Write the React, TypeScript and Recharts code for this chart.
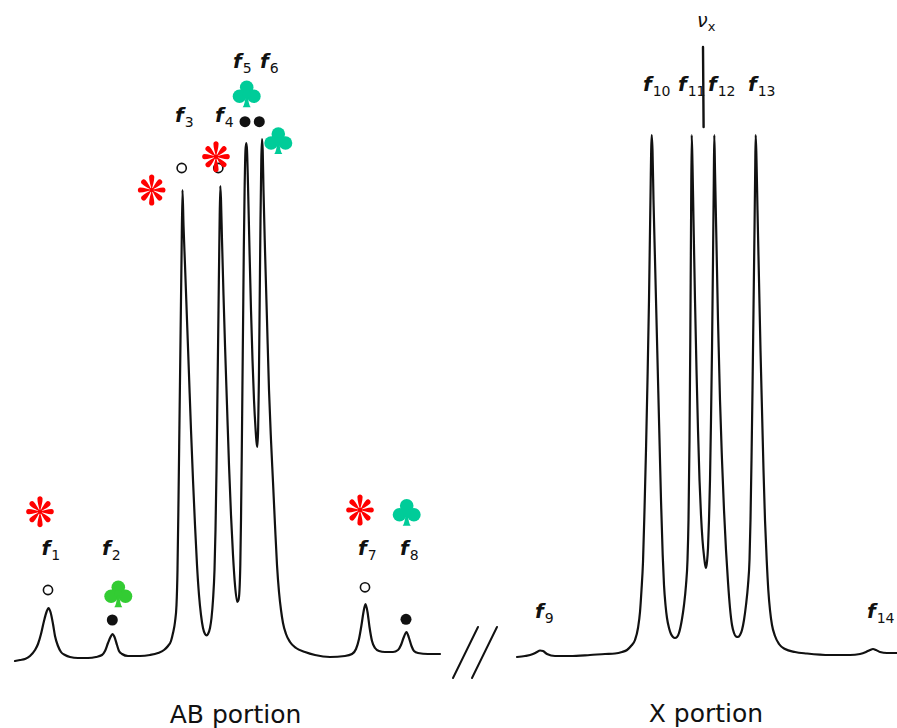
import React from "react";
import { ComposedChart, Line, Scatter, XAxis, YAxis } from "recharts";

// AB portion of the spectrum: [frequency position, intensity]
const abSpectrum: [number, number][] = [
  [15, -1], [20, 0], [25, 1], [30, 4], [35, 10], [38, 16], [41, 26], [44, 39], [46.5, 48], [48.5, 52],
  [50.5, 48], [53, 36], [55, 24], [58, 14], [61, 8], [65, 5], [70, 3], [78, 2], [88, 2], [96, 3],
  [102, 5], [105, 9], [108, 17], [110.5, 23], [112.5, 26], [114.5, 23], [117, 15], [119, 9], [122, 6], [128, 4],
  [140, 4], [150, 5], [158, 7], [164, 10], [168, 14], [171, 19], [173, 27], [175, 38], [176.5, 55], [177.5, 90],
  [178.5, 160], [179.5, 240], [180.5, 320], [181.5, 400], [182.5, 470], [183.5, 435], [185, 395], [187, 340], [189, 285], [191, 230],
  [193, 180], [195, 135], [197, 95], [199, 65], [201, 45], [203, 32], [205, 26], [206.7, 24.5], [208, 26], [210, 32],
  [211.5, 42], [213, 60], [214.5, 90], [215.5, 130], [216.5, 190], [217.5, 270], [218.5, 350], [219.5, 430], [220.3, 474], [221, 460],
  [222, 420], [223.5, 365], [225, 315], [227, 255], [229, 195], [231, 145], [233, 105], [235, 75], [237.3, 58], [238.5, 60],
  [239.5, 70], [240.3, 95], [241, 140], [241.7, 200], [242.4, 270], [243.1, 340], [243.8, 410], [244.6, 470], [245.5, 510], [246.3, 517],
  [247, 510], [248, 475], [249.5, 410], [251, 350], [252.5, 300], [254, 260], [255.5, 232], [256.5, 218], [257.3, 213], [258.1, 230],
  [258.9, 280], [259.7, 360], [260.5, 440], [261.3, 500], [262, 521], [262.7, 510], [263.5, 470], [265, 410], [267, 340], [269, 270],
  [271, 220], [273, 178], [275, 135], [277, 95], [279, 68], [281, 50], [283, 37], [286, 26], [290, 18], [296, 12],
  [305, 8], [315, 5], [330, 3], [345, 4], [352, 6], [356, 11], [359, 21], [361.5, 35], [363.5, 48], [365.5, 56],
  [367.5, 48], [369.5, 33], [372, 19], [375, 12], [379, 9], [385, 8], [393, 8], [398, 10], [401, 15], [403.5, 22],
  [406.5, 28], [409, 22], [411.5, 14], [414, 9], [418, 7], [428, 6], [440, 6],
];

// X portion of the spectrum
const xSpectrum: [number, number][] = [
  [517, 3], [525, 4], [533, 6], [537, 8], [540, 9.5], [543, 9], [547, 6], [555, 4], [570, 4], [590, 5],
  [605, 6], [615, 6.5], [622, 8], [627, 10], [631, 14], [635, 20], [638, 32], [640, 48], [641.5, 70], [643, 98],
  [644.5, 150], [646, 210], [647.5, 280], [649, 360], [650.3, 450], [651.7, 525], [652.5, 510], [653.5, 460], [655, 400], [656.5, 340],
  [658, 280], [659.5, 220], [661, 160], [662.7, 105], [664, 75], [665.5, 55], [667, 42], [669, 32], [671, 26], [673, 23],
  [675, 22], [677, 23], [679, 27], [680.5, 33], [682, 41], [684, 55], [686, 75], [687.5, 100], [688.5, 140], [689.5, 220],
  [690.3, 320], [691, 430], [691.7, 525], [692.5, 495], [693.5, 440], [695, 360], [696.5, 290], [698, 230], [699.5, 180], [701, 145],
  [702.5, 120], [704, 104], [705, 96], [706, 92], [707, 98], [708, 112], [709, 140], [710, 180], [711, 240], [712, 310],
  [713, 400], [713.8, 480], [714.3, 525], [715, 490], [716, 440], [717, 390], [718, 340], [719, 300], [720, 260], [722, 200],
  [724, 150], [726, 110], [728, 78], [730, 52], [732, 35], [734, 27], [736, 23.5], [738, 23], [740, 25], [742, 30],
  [744, 40], [746, 55], [748, 75], [749.5, 100], [750.5, 140], [751.5, 200], [752.5, 270], [753.5, 350], [754.5, 430], [755.2, 490],
  [755.7, 525], [756.5, 500], [757.5, 450], [759, 380], [760.5, 310], [762, 250], [763.5, 190], [765, 140], [766.7, 100], [768.3, 70],
  [770, 50], [772, 35], [775, 24], [779, 16], [785, 11], [795, 8], [807, 6.5], [830, 5], [850, 5], [860, 6],
  [866, 8], [870, 10], [873, 11], [876, 10], [880, 8], [887, 7], [897, 7],
];

// νx marker and axis-break marks
const nuXMarker: [number, number][] = [[703, 613], [703.6, 533]];
const breakMarkA: [number, number][] = [[453, -18], [478, 33]];
const breakMarkB: [number, number][] = [[472, -18], [497, 33]];

// Line labels f1..f14
const lineLabels = [
  { x: 41.5, y: 105, sub: "1" }, { x: 102, y: 105, sub: "2" },
  { x: 175, y: 538, sub: "3" }, { x: 215, y: 538, sub: "4" },
  { x: 233, y: 592, sub: "5" }, { x: 260, y: 592, sub: "6" },
  { x: 358, y: 105, sub: "7" }, { x: 400, y: 105, sub: "8" },
  { x: 535, y: 42, sub: "9" }, { x: 643, y: 569, sub: "10" },
  { x: 678, y: 569, sub: "11" }, { x: 708, y: 569, sub: "12" },
  { x: 748, y: 569, sub: "13" }, { x: 867, y: 42, sub: "14" },
];

// Assignment markers
const openCircles = [{ x: 48, y: 70 }, { x: 181.7, y: 492 }, { x: 218.3, y: 492 }, { x: 365, y: 72.7 }];
const filledDots = [{ x: 112.3, y: 40 }, { x: 245, y: 538.3 }, { x: 259.3, y: 538.3 }, { x: 406, y: 40.7 }];
const asterisks = [{ x: 40, y: 148.3 }, { x: 151.7, y: 470 }, { x: 216, y: 503.3 }, { x: 360, y: 150 }];
const clubs = [
  { x: 118.3, y: 66.7, kind: "green" },
  { x: 246.7, y: 566.7, kind: "teal" },
  { x: 278.3, y: 520, kind: "teal" },
  { x: 406.7, y: 148.3, kind: "teal" },
];
const nuXLabel = [{ x: 697, y: 633 }];
const portionLabels = [{ x: 235.5, y: -63, text: "AB portion" }, { x: 706, y: -61.5, text: "X portion" }];

const toPts = (arr: [number, number][]) => arr.map(([x, y]) => ({ x, y }));

const FONT = "'DejaVu Sans', sans-serif";
const CLUB_COLORS: Record<string, string> = { green: "#33cc33", teal: "#00cc99" };

const FLabel = (p: any) => (
  <text x={p.cx} y={p.cy} fontFamily={FONT} fill="#111">
    <tspan fontSize={20} fontStyle="italic" fontWeight="bold">f</tspan>
    <tspan fontSize={14} dy={5} dx={1}>{p.payload.sub}</tspan>
  </text>
);

const OpenCircle = (p: any) => (
  <circle cx={p.cx} cy={p.cy} r={4.6} fill="#fff" stroke="#111" strokeWidth={1.6} />
);
const FilledDot = (p: any) => <circle cx={p.cx} cy={p.cy} r={5.5} fill="#111" />;

const TEAR = "M 0 0 C 0.8 -3 2.6 -8 2.6 -11.5 C 2.6 -14.6 -2.6 -14.6 -2.6 -11.5 C -2.6 -8 -0.8 -3 0 0 Z";
const ANGLES = [0, 45, 90, 135, 180, 225, 270, 315];
const Asterisk = (p: any) => (
  <g transform={`translate(${p.cx},${p.cy})`} fill="#ff0000">
    {ANGLES.map((a) => (
      <path key={a} d={TEAR} transform={`rotate(${a}) scale(1, ${a % 180 === 0 ? 1.12 : 1})`} />
    ))}
    <circle r={2.2} />
  </g>
);

const Club = (p: any) => {
  const c = CLUB_COLORS[p.payload.kind];
  return (
    <g transform={`translate(${p.cx},${p.cy})`} fill={c}>
      <circle cx={0} cy={-6} r={6.8} />
      <circle cx={-7.2} cy={3} r={6.8} />
      <circle cx={7.2} cy={3} r={6.8} />
      <circle cx={0} cy={1} r={4} />
      <path d="M -1.2 2 L 1.2 2 C 1.5 8 2.5 12 4 14 L -4 14 C -2.5 12 -1.5 8 -1.2 2 Z" />
    </g>
  );
};

const NuLabel = (p: any) => (
  <text x={p.cx} y={p.cy} fontFamily={FONT} fill="#111">
    <tspan fontSize={19} fontStyle="italic">ν</tspan>
    <tspan fontSize={13} dy={4}>x</tspan>
  </text>
);

const PortionLabel = (p: any) => (
  <text x={p.cx} y={p.cy} textAnchor="middle" fontFamily={FONT} fontSize={25} fill="#111">
    {p.payload.text}
  </text>
);

export default function App() {
  const lineProps = {
    dataKey: "y",
    stroke: "#111",
    strokeWidth: 2.2,
    dot: false,
    activeDot: false,
    isAnimationActive: false,
    strokeLinejoin: "round" as const,
    strokeLinecap: "round" as const,
  };
  return (
    <div style={{ position: "absolute", left: 0, top: 0, width: 897, height: 728, background: "#fff" }}>
      <ComposedChart width={897} height={728} margin={{ top: 0, right: 0, bottom: 0, left: 0 }}>
        <XAxis type="number" dataKey="x" domain={[0, 897]} hide allowDataOverflow />
        <YAxis type="number" dataKey="y" domain={[-68, 660]} hide allowDataOverflow />
        <Line {...lineProps} data={toPts(abSpectrum)} type="monotone" />
        <Line {...lineProps} data={toPts(xSpectrum)} type="monotone" />
        <Line {...lineProps} data={toPts(nuXMarker)} type="linear" strokeWidth={2.4} />
        <Line {...lineProps} data={toPts(breakMarkA)} type="linear" strokeWidth={2} />
        <Line {...lineProps} data={toPts(breakMarkB)} type="linear" strokeWidth={2} />
        <Scatter data={openCircles} dataKey="y" shape={OpenCircle} isAnimationActive={false} />
        <Scatter data={filledDots} dataKey="y" shape={FilledDot} isAnimationActive={false} />
        <Scatter data={asterisks} dataKey="y" shape={Asterisk} isAnimationActive={false} />
        <Scatter data={clubs} dataKey="y" shape={Club} isAnimationActive={false} />
        <Scatter data={lineLabels} dataKey="y" shape={FLabel} isAnimationActive={false} />
        <Scatter data={nuXLabel} dataKey="y" shape={NuLabel} isAnimationActive={false} />
        <Scatter data={portionLabels} dataKey="y" shape={PortionLabel} isAnimationActive={false} />
      </ComposedChart>
    </div>
  );
}
